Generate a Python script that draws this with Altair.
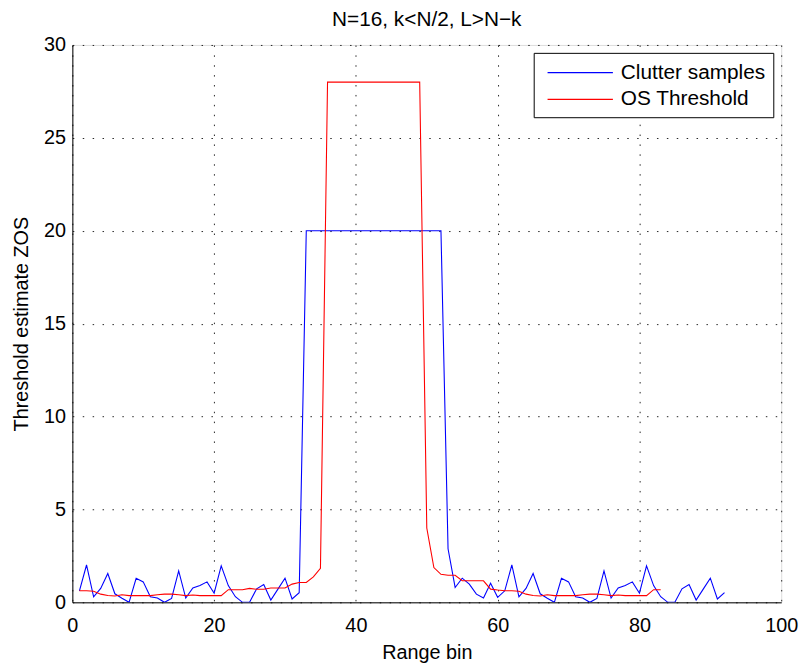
import altair as alt
import pandas as pd

# Range bins
clutter_bins = list(range(1, 93))
threshold_bins = list(range(1, 84))

# Clutter samples (blue)
clutter_values = [
    0.62, 2.01, 0.30, 0.75, 1.55, 0.46, 0.22, 0.00, 1.29, 1.10,
    0.30, 0.23, 0.00, 0.21, 1.69, 0.23, 0.77, 0.90, 1.10, 0.49,
    1.96, 0.90, 0.30, 0.00, 0.00, 0.73, 0.96, 0.12, 0.71, 1.30,
    0.18, 0.52,
    20, 20, 20, 20, 20, 20, 20, 20, 20, 20,
    20, 20, 20, 20, 20, 20, 20, 20, 20, 20,
    2.88, 0.80, 1.30, 0.98, 0.44, 0.23, 1.03, 0.27,
    0.62, 2.01, 0.30, 0.75, 1.55, 0.46, 0.22, 0.00, 1.29, 1.10,
    0.30, 0.23, 0.00, 0.21, 1.69, 0.23, 0.77, 0.90, 1.10, 0.49,
    1.96, 0.90, 0.30, 0.00, 0.00, 0.73, 0.96, 0.12, 0.71, 1.30,
    0.18, 0.52,
]

# OS threshold (red)
threshold_values = [
    0.62, 0.62, 0.60, 0.44, 0.37, 0.34, 0.41, 0.36, 0.36, 0.36,
    0.36, 0.41, 0.44, 0.44, 0.41, 0.36, 0.39, 0.36, 0.36, 0.36,
    0.36, 0.68, 0.68, 0.68, 0.75, 0.70, 0.70, 0.77, 0.77, 0.77,
    0.98, 1.07, 1.07, 1.37, 1.83,
    28, 28, 28, 28, 28, 28, 28, 28, 28, 28, 28, 28, 28, 28,
    4.00, 1.87, 1.51, 1.46, 1.46, 1.16, 1.16, 1.16, 1.16, 0.71, 0.66,
    0.62, 0.62, 0.60, 0.44, 0.37, 0.34, 0.41, 0.36, 0.36, 0.36,
    0.36, 0.41, 0.44, 0.44, 0.41, 0.36, 0.39, 0.36, 0.36, 0.36,
    0.36, 0.68, 0.68,
]

series_names = ["Clutter samples", "OS Threshold"]
series_colors = ["#0000ff", "#ff0000"]
x_ticks = [0, 20, 40, 60, 80, 100]
y_ticks = [0, 5, 10, 15, 20, 25, 30]

df = pd.concat([
    pd.DataFrame({"bin": clutter_bins, "value": clutter_values, "series": series_names[0]}),
    pd.DataFrame({"bin": threshold_bins, "value": threshold_values, "series": series_names[1]}),
], ignore_index=True)

FONT = "Liberation Sans"

chart = alt.Chart(df).mark_line(strokeWidth=1.1, clip=True).encode(
    x=alt.X("bin:Q",
            scale=alt.Scale(domain=[0, 100], nice=False),
            axis=alt.Axis(title="Range bin", values=x_ticks, format="d",
                          grid=True, gridColor="#000000", gridDash=[1.5, 8.5], gridOpacity=0.85,
                          ticks=False, tickSize=0, labelPadding=13, labelFlush=False,
                          labelFontSize=20, titleFontSize=20, titleFontWeight="normal",
                          titlePadding=8, domainColor="#000000", labelColor="#000000",
                          titleColor="#000000", labelFont=FONT, titleFont=FONT)),
    y=alt.Y("value:Q",
            scale=alt.Scale(domain=[0, 30], nice=False),
            axis=alt.Axis(title="Threshold estimate ZOS", values=y_ticks, format="d",
                          grid=True, gridColor="#000000", gridDash=[1.5, 8.5], gridOpacity=0.85,
                          ticks=False, tickSize=0, labelPadding=7, labelFlush=False,
                          labelFontSize=20, titleFontSize=20, titleFontWeight="normal",
                          titlePadding=12, domainColor="#000000", labelColor="#000000",
                          titleColor="#000000", labelFont=FONT, titleFont=FONT)),
    color=alt.Color("series:N",
                    scale=alt.Scale(domain=series_names, range=series_colors),
                    legend=alt.Legend(title=None, orient="none", legendX=466, legendY=8,
                                      symbolType="M-3,0H3", symbolSize=484, symbolStrokeWidth=1.2,
                                      symbolOffset=27, labelOffset=29,
                                      labelFontSize=21, labelFont=FONT, labelColor="#000000",
                                      rowPadding=5, padding=8,
                                      fillColor="#ffffff", strokeColor="#000000",
                                      labelLimit=400)),
).properties(
    width=716,
    height=563,
    title=alt.Title("N=16, k<N/2, L>N\u2212k", fontSize=21, font=FONT, fontWeight="normal",
                    color="#000000", offset=5, anchor="middle"),
    autosize=alt.AutoSizeParams(type="none"),
    padding={"left": 65, "top": 34, "right": 21, "bottom": 61},
).configure_view(
    stroke="#000000", strokeWidth=1
).configure(background="#ffffff")

chart.save("out.html", embed_options={"renderer": "svg", "actions": False})
